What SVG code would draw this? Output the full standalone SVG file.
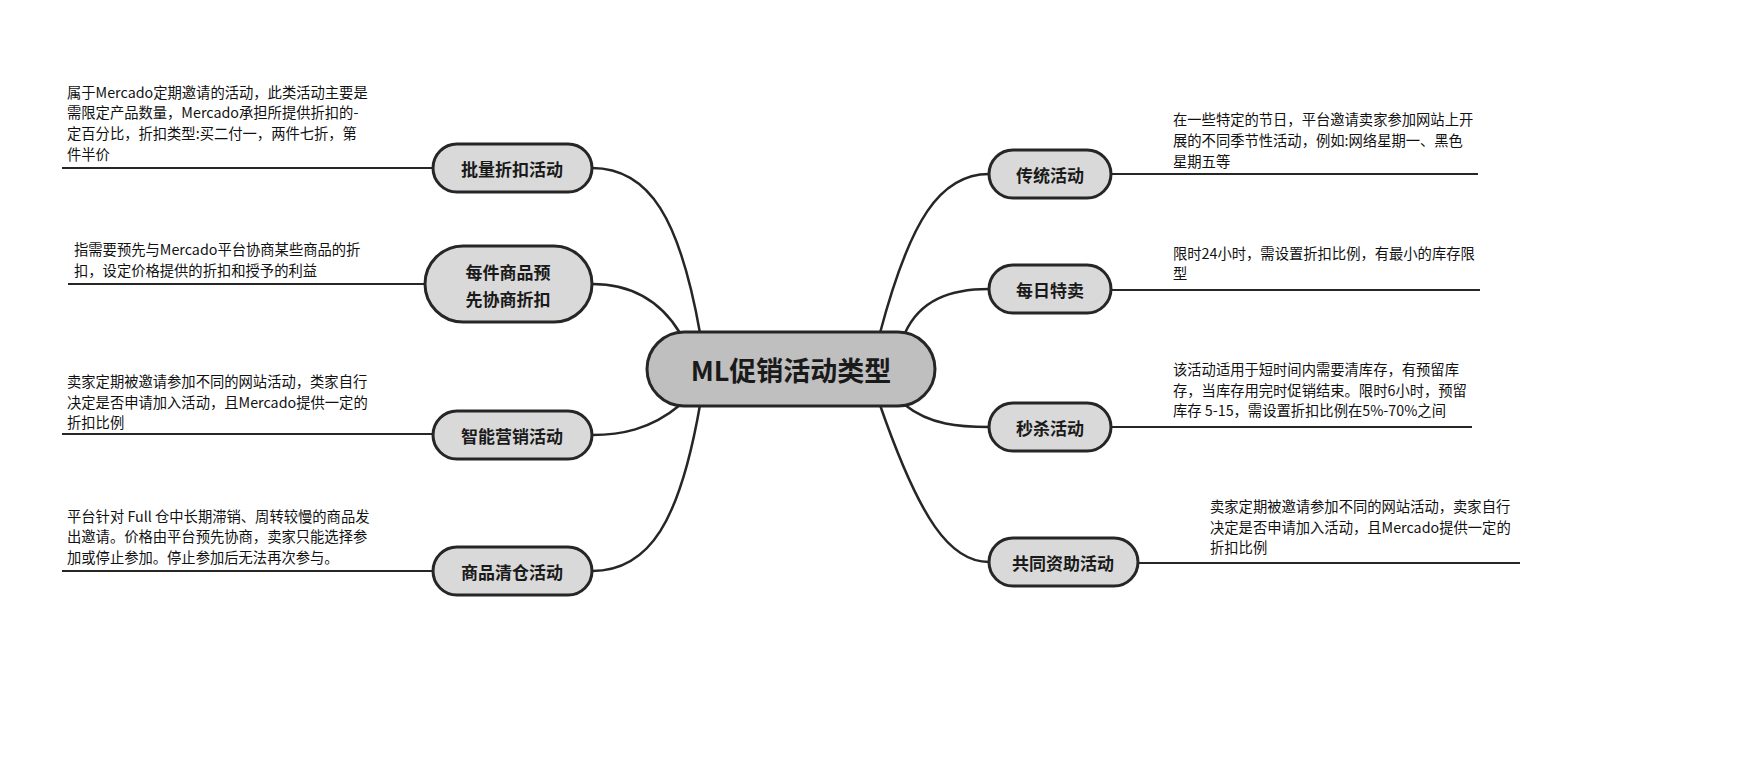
<svg xmlns="http://www.w3.org/2000/svg" width="1753" height="758" viewBox="0 0 1753 758">
<style>
.n{fill:#d9d9d9;stroke:#262626;stroke-width:3}
.nt{font-family:"Noto Sans CJK SC",sans-serif;font-size:17px;font-weight:bold;fill:#1a1a1a;text-anchor:middle;dominant-baseline:central}
.d{font-family:"Noto Sans CJK SC",sans-serif;font-size:14.3px;fill:#111}
.c path{fill:none;stroke:#262626;stroke-width:2.5}
.c line{stroke:#262626;stroke-width:2}
</style>
<rect width="1753" height="758" fill="#fff"/>
<g class="c">
<path d="M700 333 C680 220 650 168 592 168"/>
<path d="M680 333 C660 300 630 284 592 284"/>
<path d="M680 405 C650 430 620 435 592 435"/>
<path d="M700 405 C680 520 650 571 592 571"/>
<path d="M880 333 C910 220 940 174 989 174"/>
<path d="M905 333 C920 300 950 289 989 289"/>
<path d="M905 405 C930 425 960 427 989 427"/>
<path d="M880 405 C920 520 950 562 989 562"/>
<line x1="62" y1="168" x2="433" y2="168"/>
<line x1="68" y1="284" x2="425" y2="284"/>
<line x1="62" y1="434" x2="433" y2="434"/>
<line x1="62" y1="571" x2="433" y2="571"/>
<line x1="1111" y1="174" x2="1478" y2="174"/>
<line x1="1111" y1="290" x2="1480" y2="290"/>
<line x1="1111" y1="427" x2="1472" y2="427"/>
<line x1="1138" y1="563" x2="1520" y2="563"/>
</g>
<g id="center"><rect x="647" y="332" width="288" height="74" rx="37" fill="#bfbfbf" stroke="#262626" stroke-width="3"/><text x="791" y="369" class="nt" style="font-size:27px">ML促销活动类型</text></g>
<g id="n1"><rect class="n" x="433" y="144" width="159" height="48" rx="24"/><text class="nt" x="512" y="168">批量折扣活动</text></g>
<g id="n2"><rect class="n" x="425" y="246" width="167" height="76" rx="38"/><text class="nt" x="508" y="271">每件商品预</text><text class="nt" x="508" y="298">先协商折扣</text></g>
<g id="n3"><rect class="n" x="433" y="411" width="159" height="48" rx="24"/><text class="nt" x="512" y="435">智能营销活动</text></g>
<g id="n4"><rect class="n" x="433" y="547" width="159" height="48" rx="24"/><text class="nt" x="512" y="571">商品清仓活动</text></g>
<g id="n5"><rect class="n" x="989" y="150" width="122" height="48" rx="24"/><text class="nt" x="1050" y="174">传统活动</text></g>
<g id="n6"><rect class="n" x="989" y="265" width="122" height="48" rx="24"/><text class="nt" x="1050" y="289">每日特卖</text></g>
<g id="n7"><rect class="n" x="989" y="403" width="122" height="48" rx="24"/><text class="nt" x="1050" y="427">秒杀活动</text></g>
<g id="n8"><rect class="n" x="989" y="538" width="149" height="48" rx="24"/><text class="nt" x="1063" y="562">共同资助活动</text></g>
<g id="t1" class="d"><text x="67" y="98">属于Mercado定期邀请的活动，此类活动主要是</text><text x="67" y="118">需限定产品数量，Mercado承担所提供折扣的-</text><text x="67" y="139">定百分比，折扣类型:买二付一，两件七折，第</text><text x="67" y="160">件半价</text></g>
<g id="t2" class="d"><text x="74" y="255">指需要预先与Mercado平台协商某些商品的折</text><text x="74" y="276">扣，设定价格提供的折扣和授予的利益</text></g>
<g id="t3" class="d"><text x="67" y="387">卖家定期被邀请参加不同的网站活动，类家自行</text><text x="67" y="408">决定是否申请加入活动，且Mercado提供一定的</text><text x="67" y="428">折扣比例</text></g>
<g id="t4" class="d"><text x="67" y="522">平台针对 Full 仓中长期滞销、周转较慢的商品发</text><text x="67" y="542">出邀请。价格由平台预先协商，卖家只能选择参</text><text x="67" y="563">加或停止参加。停止参加后无法再次参与。</text></g>
<g id="t5" class="d"><text x="1173" y="125">在一些特定的节日，平台邀请卖家参加网站上开</text><text x="1173" y="146">展的不同季节性活动，例如:网络星期一、黑色</text><text x="1173" y="167">星期五等</text></g>
<g id="t6" class="d"><text x="1173" y="259">限时24小时，需设置折扣比例，有最小的库存限</text><text x="1173" y="279">型</text></g>
<g id="t7" class="d"><text x="1173" y="375">该活动适用于短时间内需要清库存，有预留库</text><text x="1173" y="396">存，当库存用完时促销结束。限时6小时，预留</text><text x="1173" y="416">库存 5-15，需设置折扣比例在5%-70%之间</text></g>
<g id="t8" class="d"><text x="1210" y="512">卖家定期被邀请参加不同的网站活动，卖家自行</text><text x="1210" y="533">决定是否申请加入活动，且Mercado提供一定的</text><text x="1210" y="553">折扣比例</text></g>
</svg>
